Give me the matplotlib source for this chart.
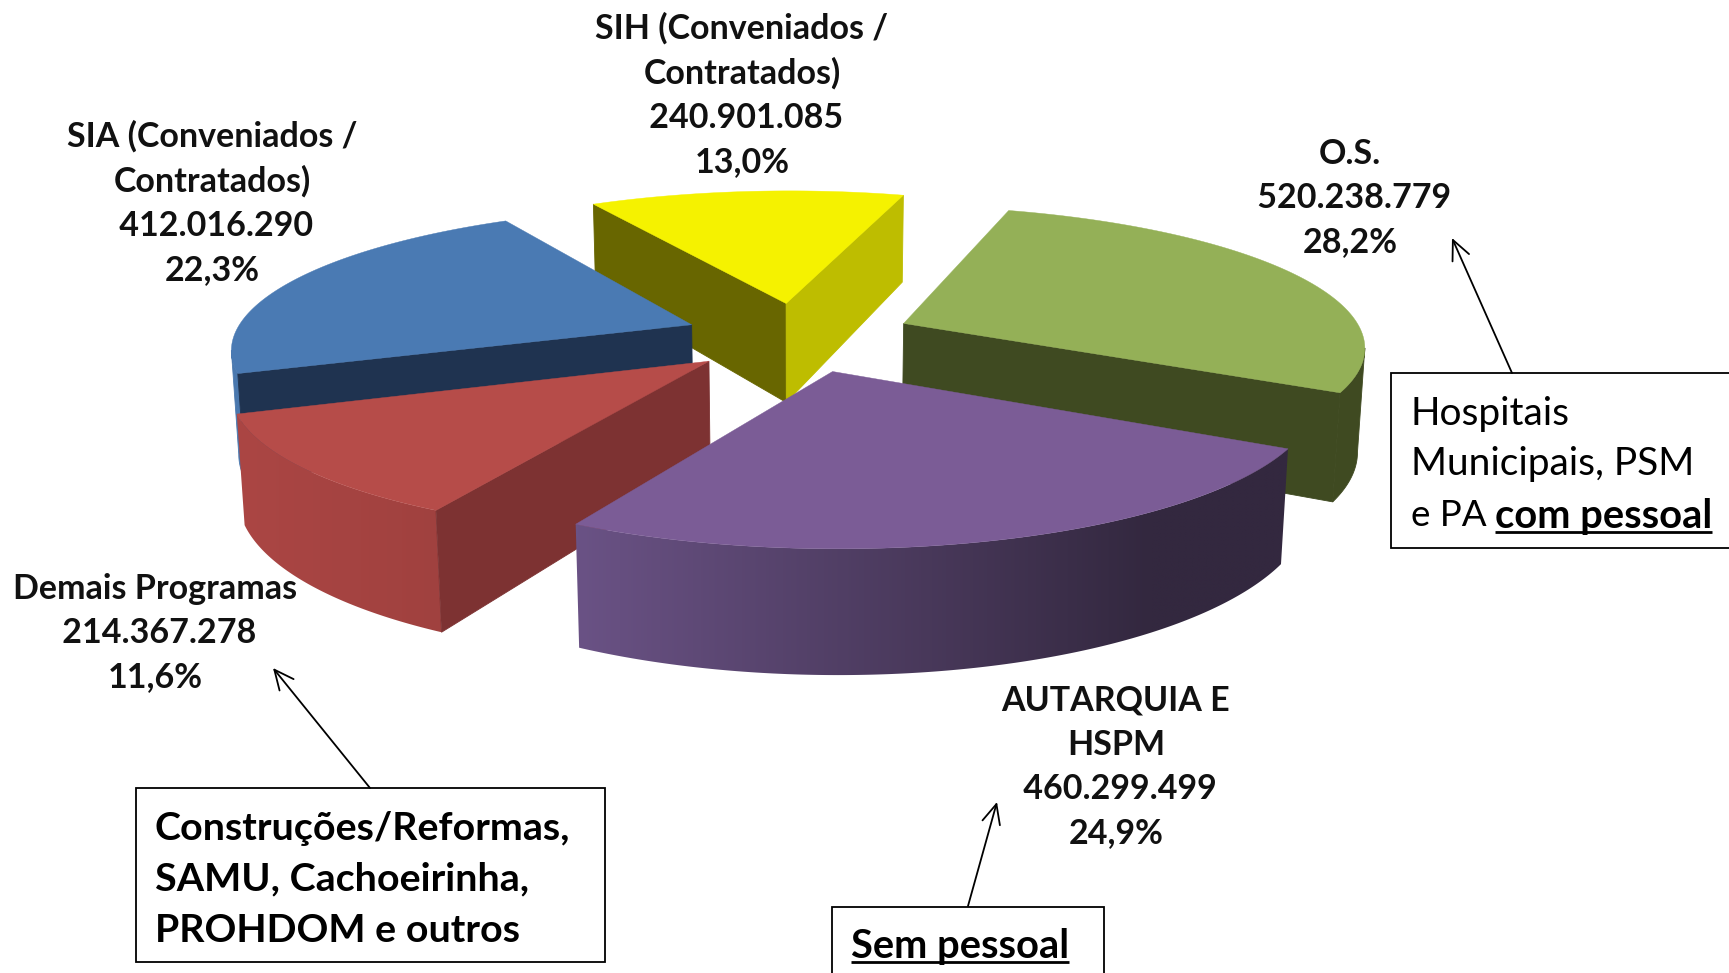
import numpy as np, matplotlib
matplotlib.use('Agg')
import matplotlib.pyplot as plt
from matplotlib.patches import Polygon, Rectangle
from matplotlib.colors import to_rgb

# ---- data, clockwise from the O.S. slice
names = ['O.S.', 'AUTARQUIA E\nHSPM', 'Demais Programas', 'SIA (Conveniados /\nContratados)', 'SIH (Conveniados /\nContratados)']
values = [520238779, 460299499, 214367278, 412016290, 240901085]

# ---- styles
top_colors = ['#94b057', '#7b5c96', '#b64c49', '#4a7ab3', '#f5f200']
start_face = ['#3f4a21', '#33283f', '#7d3232', '#1f3350', '#686600']
end_face = ['#3f4a21', '#33283f', '#7d3232', '#1f3350', '#bebd00']
rim_left = ['#3f4a21', '#6a5285', '#ab4644', '#4a78ae', '#686600']
rim_right = ['#3f4a21', '#33283f', '#a0413f', '#4a78ae', '#bebd00']
rim_span = [(1300, 1400), (577, 1150), (238, 443), (225, 245), (590, 900)]

# ---- fitted perspective of the pie plane
CX, CY, A11, A12, A21, A22, G1, G2 = 794.84278, 359.67675, 469.9982, -25.15734, -8.35649, -145.58408, 0.00727, 0.15431
T0 = 0.35691
EXPLODE = [(0.2538, 0.2443), (0.07472, -0.08468), (-0.18254, -0.00019), (-0.21412, 0.26147), (0.00223, 0.41013)]
DEPTH = 105.21
VX, VL = 800.0, 8000.0

FONT = 'Lato'
plt.rcParams['font.family'] = [FONT, 'DejaVu Sans']

v = np.array(values, float)
frac = v / v.sum()
edges = T0 + np.r_[0, np.cumsum(frac)] * 2 * np.pi


def proj(X, Y):
    w = 1 + G1 * X + G2 * Y
    return CX + (A11 * X + A12 * Y) / w, CY + (A21 * X + A22 * Y) / w, w


def lower(x, y, w):
    d = DEPTH / w
    return x + d * (VX - x) / VL, y + d


fig = plt.figure(figsize=(17.29, 9.73), dpi=100)
ax = fig.add_axes([0, 0, 1, 1])
ax.set_xlim(0, 1729)
ax.set_ylim(973, 0)
ax.axis('off')

ORDER = [4, 3, 0, 2, 1]
for z0, i in enumerate(ORDER):
    z = 2 + z0
    ox, oy = EXPLODE[i]
    t = np.linspace(edges[i], edges[i + 1], 300)
    rx, ry, rw = proj(ox + np.sin(t), oy + np.cos(t))
    ax_, ay_, aw_ = proj(np.array(ox), np.array(oy))
    px = np.r_[ax_, rx]
    py = np.r_[ay_, ry]
    pw = np.r_[aw_, rw]
    bx, by = lower(px, py, pw)
    # outer wall: only the part whose edge runs leftward faces the viewer
    vis = [k for k in range(1, len(px) - 1) if px[k + 1] < px[k]]
    if vis:
        k0, k1 = vis[0], vis[-1] + 1
        poly = np.r_[np.c_[px[k0:k1 + 1], py[k0:k1 + 1]], np.c_[bx[k0:k1 + 1], by[k0:k1 + 1]][::-1]]
        if rim_left[i] == rim_right[i]:
            ax.add_patch(Polygon(poly, fc=rim_left[i], ec=rim_left[i], lw=0.6, zorder=z))
        else:
            xa, xb = poly[:, 0].min() - 2, poly[:, 0].max() + 2
            ya, yb = poly[:, 1].min() - 2, poly[:, 1].max() + 2
            xs = np.linspace(xa, xb, 256)
            lo, hi = rim_span[i]
            f = np.clip((xs - lo) / (hi - lo), 0, 1)[None, :, None]
            c0, c1 = np.array(to_rgb(rim_left[i])), np.array(to_rgb(rim_right[i]))
            img = c0[None, None, :] + (c1 - c0)[None, None, :] * f
            im = ax.imshow(img, extent=(xa, xb, yb, ya), aspect='auto', interpolation='bilinear', zorder=z)
            im.set_clip_path(Polygon(poly, closed=True, transform=ax.transData, fc='none', ec='none'))
    ax.set_xlim(0, 1729)
    ax.set_ylim(973, 0)
    # straight faces
    if px[1] < px[0]:
        ax.add_patch(Polygon([(px[0], py[0]), (px[1], py[1]), (bx[1], by[1]), (bx[0], by[0])], fc=start_face[i], ec=start_face[i], lw=0.6, zorder=z))
    if px[0] < px[-1]:
        ax.add_patch(Polygon([(px[-1], py[-1]), (px[0], py[0]), (bx[0], by[0]), (bx[-1], by[-1])], fc=end_face[i], ec=end_face[i], lw=0.6, zorder=z))
    ax.add_patch(Polygon(np.c_[px, py], fc=top_colors[i], ec=top_colors[i], lw=0.3, zorder=z))

# ---- data labels
label_pos = [(1350, 198), (1116, 767), (155.5, 633), (212, 203), (742, 95)]
for i, (x, y) in enumerate(label_pos):
    num = f'{values[i]:,}'.replace(',', '.')
    pct = f'{frac[i] * 100:.1f}%'.replace('.', ',')
    ax.text(x, y, f'{names[i]}\n {num}\n{pct}', ha='center', va='center', fontsize=24.5, fontweight='bold',
            color='#111111', linespacing=1.475, zorder=20)

# ---- callout boxes
BOXES = [(1391, 373, 345, 175), (136, 788, 469, 174), (832, 907, 272, 100)]
for x, y, w, h in BOXES:
    ax.add_patch(Rectangle((x, y), w, h, fc='white', ec='black', lw=1.3, zorder=15))
ARROWS = [((1512, 373), (1452, 238)), ((370, 788), (273, 668)), ((968, 906), (997, 802))]
for a, b in ARROWS:
    ax.annotate('', xy=b, xytext=a, arrowprops=dict(arrowstyle='->,head_length=1.4,head_width=0.65', lw=1.3, color='black', shrinkA=0, shrinkB=0), zorder=16)

R = fig.canvas.get_renderer()


def put(x, y, s, weight='normal', size=28, under=False):
    t = ax.text(x, y, s, ha='left', va='center_baseline', fontsize=size, fontweight=weight, color='black', zorder=20)
    bb = t.get_window_extent(R)
    if under:
        yb = y + 19
        ax.plot([x, x + bb.width], [yb, yb], color='black', lw=2.0, zorder=20, solid_capstyle='butt')
    return x + bb.width


put(1411, 411, 'Hospitais')
put(1411, 461, 'Municipais, PSM')
put(1411, 513, 'e PA', size=26.5)
put(1495, 513, 'com pessoal', weight='bold', size=28.7, under=True)
put(155, 825, 'Construções/Reformas,', weight='bold', size=28.4)
put(155, 876, 'SAMU, Cachoeirinha,', weight='bold', size=28.4)
put(155, 928, 'PROHDOM e outros', weight='bold', size=28.4)
put(851, 943, 'Sem pessoal', weight='bold', size=28.7, under=True)

fig.savefig('out.png', dpi=100)
